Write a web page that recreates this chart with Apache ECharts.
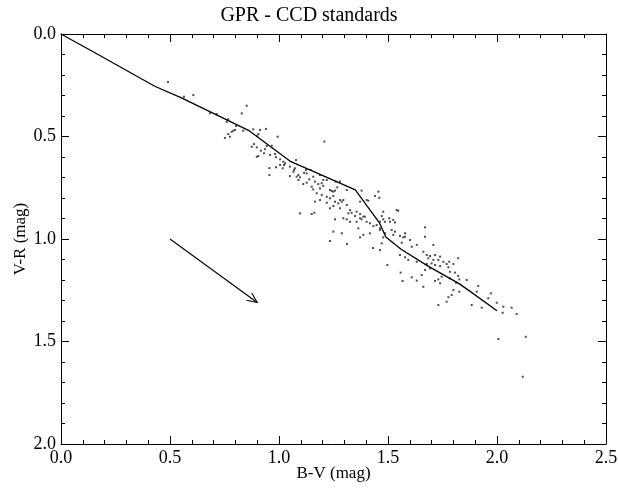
<!DOCTYPE html>
<html>
<head>
<meta charset="utf-8">
<script src="https://cdn.jsdelivr.net/npm/echarts@6/dist/echarts.min.js"></script>
<style>html,body{margin:0;padding:0;background:#fff}#c{width:618px;height:491px}</style>
</head>
<body>
<div id="c"></div>
<script>
// Standard sequence (B-V, V-R)
const seqBV = [0.00, 0.17, 0.43, 0.55, 0.86, 1.05, 1.35, 1.46, 1.49, 1.56, 1.68, 1.83, 2.00];
const seqVR = [0.00, 0.10, 0.255, 0.31, 0.47, 0.62, 0.76, 0.92, 0.99, 1.05, 1.13, 1.22, 1.35];
// Reddening arrow (start, end)
const arrowStart = [0.50, 1.00];
const arrowEnd = [0.90, 1.31];
// Axis tick values
const xTicks = [0.0, 0.5, 1.0, 1.5, 2.0, 2.5];
const yTicks = [0.0, 0.5, 1.0, 1.5, 2.0];
// CCD standard stars [B-V, V-R]
const stars = [
[0.491,0.234],[0.564,0.306],[0.607,0.298],[0.683,0.387],[0.714,0.390],[0.852,0.350],[0.829,0.387],[0.767,0.416],[0.760,0.428],[0.803,0.449],[0.798,0.468],[0.790,0.472],[0.783,0.477],[0.836,0.472],[0.767,0.488],[0.752,0.507],[0.775,0.501],[0.882,0.465],[0.913,0.468],[0.940,0.463],[0.905,0.488],[0.900,0.498],[0.994,0.501],[1.208,0.525],[0.885,0.537],[0.875,0.550],[0.898,0.553],[0.944,0.546],[0.967,0.545],[0.936,0.562],[0.917,0.569],[0.931,0.582],[0.959,0.590],[0.982,0.585],[0.905,0.595],[0.898,0.599],[0.986,0.601],[1.005,0.611],[1.020,0.623],[1.023,0.639],[1.078,0.615],[1.050,0.647],[0.956,0.654],[0.986,0.650],[1.017,0.655],[1.073,0.655],[1.066,0.672],[0.956,0.688],[1.050,0.693],[1.089,0.688],[1.115,0.677],[1.124,0.663],[1.145,0.663],[1.096,0.699],
[1.028,0.631],[1.005,0.639],[1.069,0.663],[1.127,0.680],[1.081,0.696],[1.089,0.712],[1.139,0.709],[1.157,0.696],[1.188,0.688],[1.203,0.712],[1.165,0.720],[1.127,0.725],[1.111,0.732],[1.180,0.732],[1.196,0.728],[1.261,0.720],[1.280,0.720],[1.219,0.712],[1.150,0.745],[1.157,0.758],[1.188,0.753],[1.203,0.741],[1.234,0.761],[1.242,0.766],[1.249,0.769],[1.257,0.764],[1.267,0.748],[1.311,0.761],[1.173,0.777],[1.196,0.785],[1.219,0.794],[1.234,0.801],[1.249,0.790],[1.280,0.810],[1.288,0.818],[1.295,0.810],[1.272,0.826],[1.257,0.818],[1.165,0.818],[1.188,0.810],[1.219,0.823],[1.234,0.850],[1.249,0.839],[1.280,0.850],[1.311,0.834],[1.326,0.859],[1.318,0.875],[1.333,0.872],[1.356,0.867],[1.372,0.878],[1.349,0.888],[1.387,0.891],[1.372,0.899],[1.379,0.904],[1.394,0.891],[1.295,0.899],[1.311,0.904],[1.257,0.904],[1.326,0.916],[1.356,0.916],[1.364,0.948],[1.402,0.916],[1.417,0.923],[1.448,0.932],[1.433,0.937],[1.463,0.916],[1.478,0.904],[1.509,0.916],[1.524,0.907],[1.540,0.859],[1.478,0.867],[1.402,0.810],[1.379,0.764],[1.456,0.769],[1.460,0.799],[1.440,0.790],[1.410,0.813],[1.372,0.818],[1.096,0.875],[1.150,0.878],[1.162,0.872],[1.249,0.964],[1.288,0.972],[1.387,0.980],[1.372,0.992],[1.417,0.972],[1.463,0.956],[1.486,0.972],[1.532,0.964],[1.578,0.989],[1.670,0.943],[1.670,0.989],
[1.547,0.862],[1.471,0.888],[1.506,0.899],[1.486,0.916],[1.532,0.919],[1.463,0.948],[1.517,0.956],[1.578,0.972],[1.555,0.985],[1.524,0.980],[1.478,0.992],[1.570,0.992],[1.601,1.005],[1.563,1.018],[1.471,1.021],[1.632,1.029],[1.708,1.029],[1.609,1.038],[1.463,1.054],[1.662,1.062],[1.555,1.078],[1.578,1.089],[1.678,1.078],[1.693,1.083],[1.716,1.078],[1.739,1.086],[1.822,1.094],[1.685,1.094],[1.708,1.102],[1.731,1.102],[1.754,1.111],[1.781,1.111],[1.632,1.111],[1.497,1.127],[1.593,1.102],[1.678,1.122],[1.700,1.119],[1.769,1.122],[1.800,1.122],[1.716,1.127],[1.693,1.143],[1.739,1.132],[1.670,1.151],[1.784,1.160],[1.777,1.138],[1.807,1.164],[1.558,1.164],[1.746,1.184],[1.731,1.197],[1.822,1.180],[1.827,1.197],[1.609,1.187],[1.655,1.176],[1.632,1.203],[1.567,1.205],[1.784,1.192],[1.861,1.200],[1.716,1.205],[1.739,1.216],[1.662,1.233],[1.914,1.229],[1.800,1.249],[1.827,1.257],[1.907,1.257],[1.792,1.273],[1.777,1.284],[1.972,1.265],[1.960,1.289],[1.769,1.306],[1.731,1.322],[1.884,1.322],[1.930,1.335],[1.999,1.311],[2.029,1.330],[2.067,1.335],[2.026,1.360],[2.090,1.366],
[1.812,1.213],[2.006,1.488],[2.132,1.477],[2.118,1.672],[1.234,1.010],[1.312,1.024],[1.431,1.044]
];

const FONT = "'Liberation Serif', 'DejaVu Serif', serif";
const chart = echarts.init(document.getElementById('c'), null, {renderer: 'canvas'});

function axisCommon(showLabels) {
  return {
    type: 'value',
    axisLine: {show: true, onZero: false, lineStyle: {color: '#000', width: 1}},
    axisTick: {show: true, inside: true, length: 8, lineStyle: {color: '#000', width: 1}},
    minorTick: {show: true, splitNumber: 5, length: 4, lineStyle: {color: '#000', width: 1}},
    splitLine: {show: false},
    minorSplitLine: {show: false},
    axisLabel: {show: showLabels, color: '#000', fontFamily: FONT, fontSize: 18, margin: 5,
      formatter: v => Number(v).toFixed(1)}
  };
}

const xMin = xTicks[0], xMax = xTicks[xTicks.length - 1], xInt = xTicks[1] - xTicks[0];
const yMin = yTicks[0], yMax = yTicks[yTicks.length - 1], yInt = yTicks[1] - yTicks[0];

const option = {
  animation: false,
  backgroundColor: '#fff',
  title: {
    text: 'GPR - CCD standards', left: 'center', top: 1,
    textStyle: {fontFamily: FONT, fontSize: 20, fontWeight: 'normal', color: '#000'}
  },
  grid: {left: 61, right: 12, top: 34, bottom: 47, containLabel: false, outerBoundsMode: 'none'},
  xAxis: [
    Object.assign(axisCommon(true), {position: 'bottom', min: xMin, max: xMax, interval: xInt,
      name: 'B-V (mag)', nameLocation: 'middle', nameGap: 21, nameMoveOverlap: false,
      nameTextStyle: {fontFamily: FONT, fontSize: 17, color: '#000'}}),
    Object.assign(axisCommon(false), {position: 'top', min: xMin, max: xMax, interval: xInt})
  ],
  yAxis: [
    Object.assign(axisCommon(true), {position: 'left', inverse: true, min: yMin, max: yMax, interval: yInt,
      name: 'V-R (mag)', nameLocation: 'middle', nameGap: 32, nameMoveOverlap: false,
      nameTextStyle: {fontFamily: FONT, fontSize: 17, color: '#000'}}),
    Object.assign(axisCommon(false), {position: 'right', inverse: true, min: yMin, max: yMax, interval: yInt})
  ],
  series: [
    {
      type: 'scatter', xAxisIndex: 0, yAxisIndex: 0, silent: true,
      symbol: 'rect', symbolSize: 2,
      itemStyle: {color: '#222'},
      data: stars
    },
    {
      type: 'line', xAxisIndex: 0, yAxisIndex: 0, silent: true,
      symbol: 'none', z: 5,
      lineStyle: {color: '#000', width: 1.3},
      data: seqBV.map((x, i) => [x, seqVR[i]])
    },
    {
      type: 'custom', xAxisIndex: 0, yAxisIndex: 0, silent: true, z: 6,
      data: [[arrowStart[0], arrowStart[1], arrowEnd[0], arrowEnd[1]]],
      renderItem: function (params, api) {
        const p0 = api.coord([api.value(0), api.value(1)]);
        const p1 = api.coord([api.value(2), api.value(3)]);
        const ang = Math.atan2(p1[1] - p0[1], p1[0] - p0[0]);
        const L = 11, a = 0.42;
        const h1 = [p1[0] - L * Math.cos(ang - a), p1[1] - L * Math.sin(ang - a)];
        const h2 = [p1[0] - L * Math.cos(ang + a), p1[1] - L * Math.sin(ang + a)];
        const st = {stroke: '#000', lineWidth: 1.1, fill: null};
        return {
          type: 'group',
          children: [
            {type: 'polyline', shape: {points: [p0, p1]}, style: st},
            {type: 'polyline', shape: {points: [h1, p1, h2]}, style: st}
          ]
        };
      }
    }
  ]
};
chart.setOption(option);
</script>
</body>
</html>
